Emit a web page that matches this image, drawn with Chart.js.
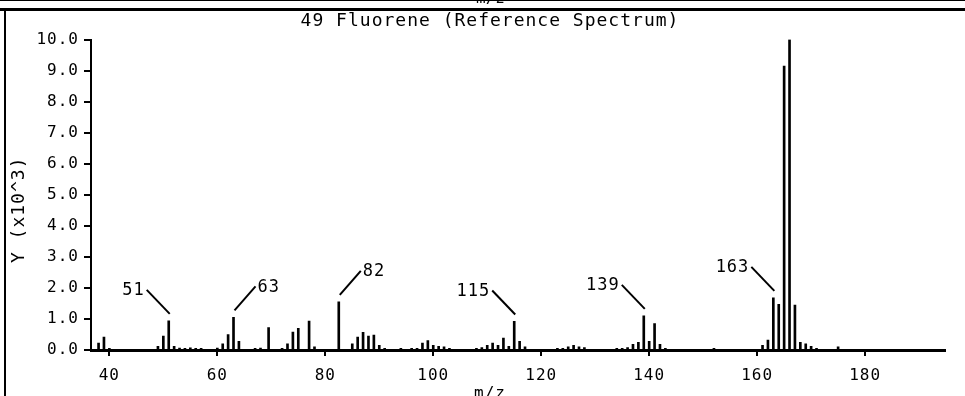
<!DOCTYPE html>
<html>
<head>
<meta charset="utf-8">
<script src="https://cdn.jsdelivr.net/npm/chart.js@4.4.1/dist/chart.umd.min.js"></script>
<style>
html,body{margin:0;padding:0;background:#fff;overflow:hidden;width:965px;height:396px;}
#wrap{position:relative;width:965px;height:403px;overflow:hidden;}
canvas{position:absolute;left:0;top:0;}
.lineTop{position:absolute;left:0;top:0;width:965px;height:1px;background:#000;}
.lineTop2{position:absolute;left:0;top:8px;width:965px;height:3px;background:#000;}
.lineLeft{position:absolute;left:4px;top:8px;width:2px;height:400px;background:#000;}
.prevClip{position:absolute;left:470px;top:0;width:40px;height:5px;overflow:hidden;}
.prevClip span{position:absolute;left:6px;top:-12px;font:16px 'DejaVu Sans Mono',monospace;color:#000;}
</style>
</head>
<body>
<div id="wrap">
  <canvas id="c" width="965" height="403"></canvas>
  <div class="lineTop"></div>
  <div class="lineTop2"></div>
  <div class="lineLeft"></div>
  <div class="prevClip"><span>m/z</span></div>
</div>
<script>
// ---- data (intensity in units of 10^3) ----
const mzValues = [38,39,40,49,50,51,52,53,54,55,56,57,60,61,62,63,64,67,68,69.5,72,73,74,75,77,78,82.5,
  85,86,87,88,89,90,91,94,96,97,98,99,100,101,102,103,108,109,110,111,112,113,114,115,116,117,
  123,124,125,126,127,128,134,135,136,137,138,139,140,141,142,143,152,161,162,163,164,165,166,167,
  168,169,170,171,175];
const intensities = [0.22,0.42,0.05,0.12,0.45,0.94,0.12,0.06,0.05,0.07,0.05,0.05,0.06,0.2,0.5,1.05,0.28,0.05,0.06,0.72,0.05,0.2,0.58,0.7,0.93,0.1,1.55,
  0.2,0.42,0.57,0.45,0.48,0.15,0.05,0.05,0.05,0.05,0.22,0.3,0.15,0.12,0.1,0.05,0.05,0.08,0.15,0.22,0.15,0.38,0.12,0.92,0.28,0.1,
  0.05,0.05,0.1,0.15,0.1,0.08,0.05,0.05,0.08,0.18,0.25,1.1,0.28,0.85,0.18,0.05,0.05,0.15,0.32,1.68,1.47,9.15,10.0,1.45,
  0.25,0.2,0.12,0.05,0.1];
const xTickValues = [40,60,80,100,120,140,160,180];
const yTickValues = [0,1,2,3,4,5,6,7,8,9,10];
const annotMz = [51,63,82.5,115,139,163];
const annotText = ['51','63','82','115','139','163'];
const annotSide = ['left','right','right','left','left','left'];
const chartTitle = '49 Fluorene (Reference Spectrum)';
const xTitle = 'm/z';
const yTitle = 'Y (x10^3)';

const MONO = "'DejaVu Sans Mono', monospace";

const spacingPlugin = {
  id: 'spacing',
  beforeUpdate(chart){ chart.ctx.letterSpacing = '1px'; },
  beforeDraw(chart){ chart.ctx.letterSpacing = '1px'; }
};

const annotPlugin = {
  id: 'annot',
  afterDatasetsDraw(chart){
    const ctx = chart.ctx;
    const meta = chart.getDatasetMeta(0);
    const area = chart.chartArea;
    ctx.save();
    ctx.letterSpacing = '1px';
    ctx.strokeStyle = '#000';
    ctx.fillStyle = '#000';
    ctx.lineWidth = 2;
    ctx.font = '17px ' + MONO;
    ctx.textBaseline = 'middle';
    annotMz.forEach((mz, i) => {
      const idx = mzValues.indexOf(mz);
      const el = meta.data[idx];
      if (!el) return;
      const dir = annotSide[i] === 'left' ? -1 : 1;
      const x0 = el.x + 1, y0 = el.y - 7;
      const x1 = el.x + dir * 22, y1 = el.y - 31;
      ctx.beginPath();
      ctx.moveTo(x0, y0);
      ctx.lineTo(x1, y1);
      ctx.stroke();
      ctx.textAlign = dir < 0 ? 'right' : 'left';
      ctx.fillText(annotText[i], x1 + dir * 2, y1 + 1);
    });
    // rotated y-axis title
    ctx.font = '18px ' + MONO;
    ctx.textAlign = 'center';
    ctx.translate(19, (area.top + area.bottom) / 2 + 15);
    ctx.rotate(-Math.PI / 2);
    ctx.fillText(yTitle, 0, 0);
    ctx.restore();
  }
};

new Chart(document.getElementById('c'), {
  type: 'bar',
  data: {
    datasets: [{
      data: mzValues.map((m, i) => ({x: m, y: intensities[i]})),
      backgroundColor: '#000',
      borderWidth: 0,
      barThickness: 2
    }]
  },
  options: {
    responsive: false,
    animation: false,
    layout: {padding: {left: 35, right: 20, top: 0, bottom: 0}},
    plugins: {
      legend: {display: false},
      tooltip: {enabled: false},
      title: {display: true, text: chartTitle, color: '#000',
        font: {family: MONO, size: 18, weight: 'normal'}, padding: {top: 11, bottom: 7}},
      subtitle: {display: true, position: 'bottom', text: xTitle, color: '#000',
        font: {family: MONO, size: 16, weight: 'normal'}, padding: 0}
    },
    scales: {
      x: {
        type: 'linear', min: 36.6, max: 194.8, offset: false,
        afterBuildTicks: s => { s.ticks = xTickValues.map(v => ({value: v})); },
        afterFit: s => { s.height = 33.8; },
        ticks: {color: '#000', font: {family: MONO, size: 16}, padding: 10, maxRotation: 0, autoSkip: false,
          callback: v => String(v)},
        grid: {offset: false, drawOnChartArea: false, drawTicks: true, tickLength: 6, color: '#000', lineWidth: 2},
        border: {display: true, color: '#000', width: 3}
      },
      y: {
        min: 0, max: 10,
        afterBuildTicks: s => { s.ticks = yTickValues.map(v => ({value: v})); },
        afterFit: s => { s.width = 56; },
        ticks: {color: '#000', font: {family: MONO, size: 16}, padding: 5, callback: v => Number(v).toFixed(1)},
        grid: {offset: false, drawOnChartArea: false, drawTicks: true, tickLength: 7, color: '#000', lineWidth: 2},
        border: {display: true, color: '#000', width: 2}
      }
    }
  },
  plugins: [spacingPlugin, annotPlugin]
});
</script>
</body>
</html>
